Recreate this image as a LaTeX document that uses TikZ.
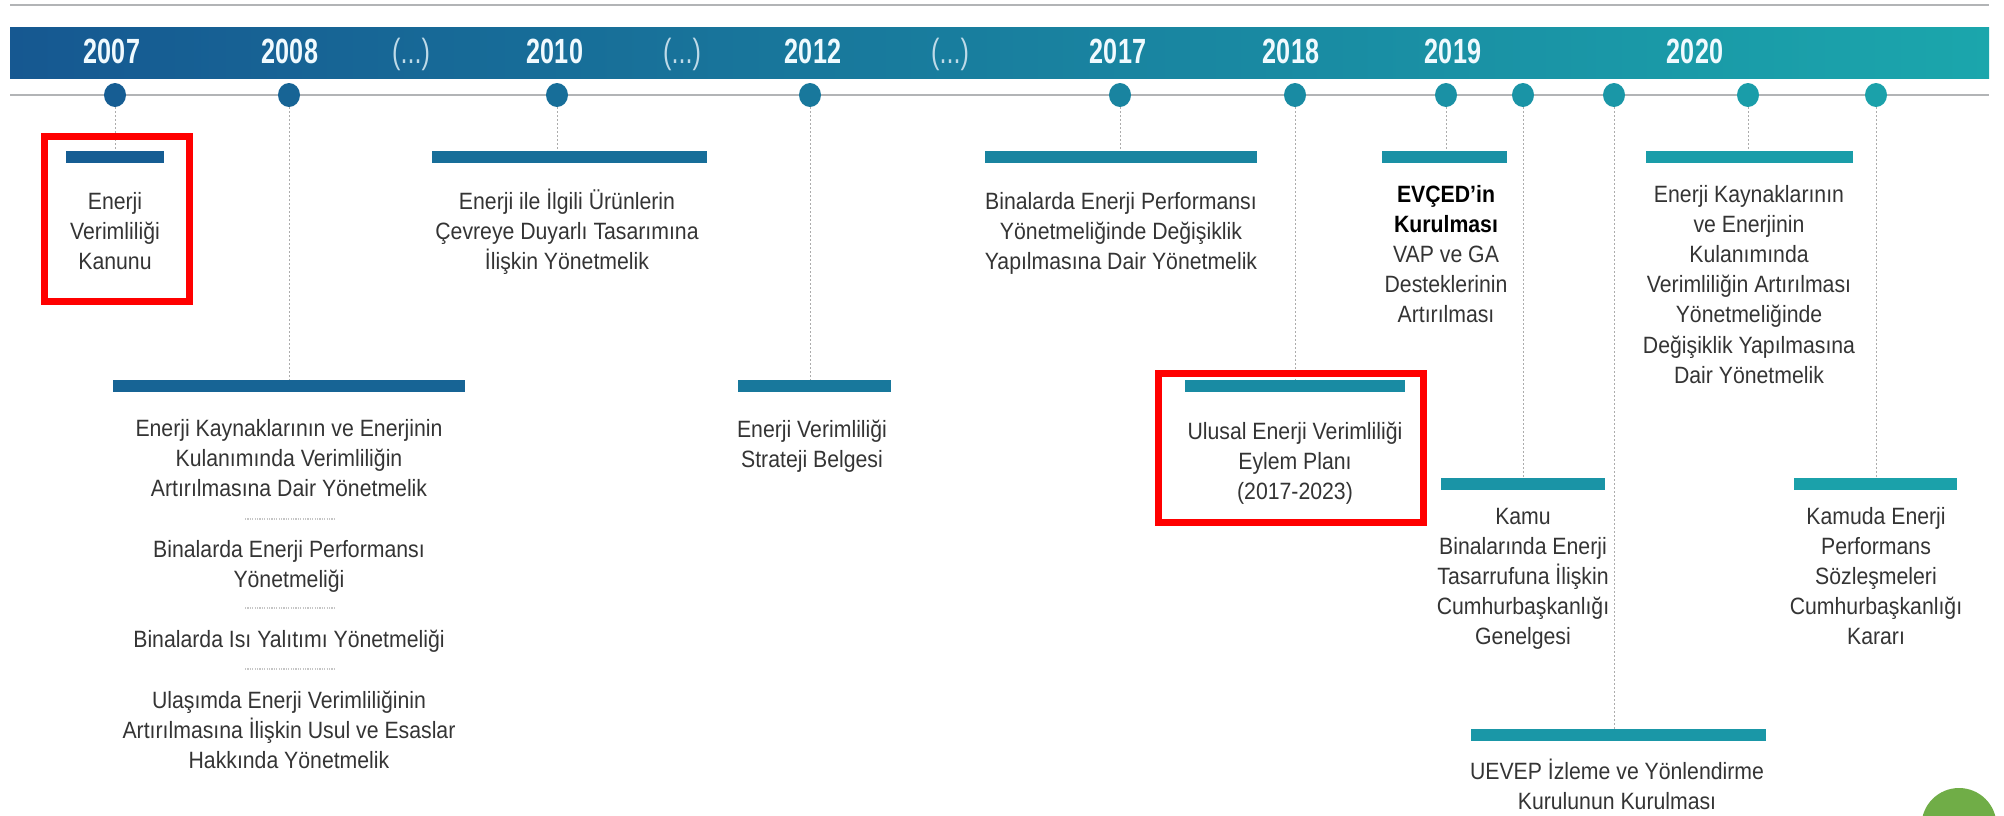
\documentclass[tikz,border=0pt]{standalone}
\usepackage{fontspec}
\setmainfont{Liberation Sans}[FakeStretch=0.9]
\newfontfamily\yearfont{Liberation Sans}[FakeStretch=0.72]
\usetikzlibrary{shapes.geometric}

\definecolor{tlblue}{RGB}{22,88,145}
\definecolor{tlteal}{RGB}{27,166,172}
\definecolor{txtgray}{RGB}{52,52,52}
\definecolor{railgray}{RGB}{178,180,182}
\definecolor{gapblue}{RGB}{190,218,232}
\definecolor{pptgreen}{RGB}{112,173,71}
\newcommand{\descsize}{\fontsize{11.8}{15.1}\selectfont}

\tikzset{
  rail/.style={draw=railgray, line width=1pt},
  yr/.style={anchor=base, inner sep=0pt, text=white!94!cyan, font=\yearfont\bfseries\fontsize{17.5}{18}\selectfont},
  yrgap/.style={anchor=base, inner sep=0pt, text=gapblue, font=\yearfont\fontsize{17.5}{18}\selectfont},
  dot/.style={ellipse, minimum width=11pt, minimum height=12pt, inner sep=0pt},
  bar/.style={rectangle, inner sep=0pt, minimum height=6pt},
  desc/.style={anchor=north, align=center, inner sep=0pt, text=txtgray, font=\descsize},
  leader/.style={draw=gray!65, line width=0.5pt, dash pattern=on 1pt off 1pt},
  sepline/.style={draw=gray!45, line width=0.6pt, dash pattern=on 0.6pt off 0.6pt},
  redframe/.style={draw=red, line width=3.5pt}
}

\begin{document}
\begin{tikzpicture}[x=0.5pt,y=-0.5pt]
\useasboundingbox (0,0) rectangle (2004,815);
\clip (0,0) rectangle (2004,815);

% band and rails
\draw[rail] (10,5) -- (1989,5);
\shade[left color=tlblue, right color=tlteal] (10,27) rectangle (1989,78);
\draw[rail] (10,94.5) -- (1989,94.5);

% years
\node[yr] (y07) at (112,63.5) {2007};
\node[yr] (y08) at (290,63.5) {2008};
\node[yrgap] (g1) at (411,63.5) {(...)};
\node[yr] (y10) at (555,63.5) {2010};
\node[yrgap] (g2) at (682,63.5) {(...)};
\node[yr] (y12) at (813,63.5) {2012};
\node[yrgap] (g3) at (950,63.5) {(...)};
\node[yr] (y17) at (1118,63.5) {2017};
\node[yr] (y18) at (1291,63.5) {2018};
\node[yr] (y19) at (1453,63.5) {2019};
\node[yr] (y20) at (1695,63.5) {2020};

% dots on the rail
\foreach \n/\x/\p in {07/115/6, 08/289/15, 10/557/28, 12/810/41, 17/1120/56, 18/1295/65,
                      19a/1446/73, 19b/1523/77, 19c/1614/81, 20a/1748/88, 20b/1876/94}
  \node[dot, fill=tlteal!\p!tlblue] (d\n) at (\x,95) {};

% bars
\node[bar, minimum width=49pt,    fill=tlteal!6!tlblue]  (b07)  at (115,157) {};
\node[bar, minimum width=176pt,   fill=tlteal!15!tlblue] (b08)  at (289,386) {};
\node[bar, minimum width=137.5pt, fill=tlteal!28!tlblue] (b10)  at (569.5,157) {};
\node[bar, minimum width=76.5pt,  fill=tlteal!41!tlblue] (b12)  at (814.5,386) {};
\node[bar, minimum width=136pt,   fill=tlteal!56!tlblue] (b17)  at (1121,157) {};
\node[bar, minimum width=110pt,   fill=tlteal!65!tlblue] (b18)  at (1295,386) {};
\node[bar, minimum width=62.5pt,  fill=tlteal!73!tlblue] (b19a) at (1444.5,157) {};
\node[bar, minimum width=82pt,    fill=tlteal!77!tlblue] (b19b) at (1523,484) {};
\node[bar, minimum width=147.5pt, fill=tlteal!81!tlblue] (b19c) at (1618.5,735) {};
\node[bar, minimum width=103.5pt, fill=tlteal!88!tlblue] (b20a) at (1749.5,157) {};
\node[bar, minimum width=81.5pt,  fill=tlteal!94!tlblue] (b20b) at (1875.5,484) {};

% leaders
\foreach \n in {07,08,10,12,17,18,19a,19b,19c,20a,20b}
  \draw[leader] (d\n.south) -- (d\n.south |- b\n.north);

% texts
\node[desc] (t07) at (115,187.5) {\strut Enerji\\Verimliliği\\Kanunu};
\node[desc] (t08) at (289,415) {\strut Enerji Kaynaklarının ve Enerjinin\\Kulanımında Verimliliğin\\Artırılmasına Dair Yönetmelik\\ \\
  Binalarda Enerji Performansı\\Yönetmeliği\\ \\Binalarda Isı Yalıtımı Yönetmeliği\\ \\
  Ulaşımda Enerji Verimliliğinin\\Artırılmasına İlişkin Usul ve Esaslar\\Hakkında Yönetmelik};
\node[desc] (t10) at (567,187.5) {\strut Enerji ile İlgili Ürünlerin\\Çevreye Duyarlı Tasarımına\\İlişkin Yönetmelik};
\node[desc] (t12) at (812,416) {\strut Enerji Verimliliği\\Strateji Belgesi};
\node[desc] (t17) at (1121,188) {\strut Binalarda Enerji Performansı\\Yönetmeliğinde Değişiklik\\Yapılmasına Dair Yönetmelik};
\node[desc] (t18) at (1295,417.5) {\strut Ulusal Enerji Verimliliği\\Eylem Planı\\(2017-2023)};
\node[desc] (t19a) at (1446,180.5) {\strut\textcolor{black}{\bfseries EVÇED’in}\\\textcolor{black}{\bfseries Kurulması}\\VAP ve GA\\Desteklerinin\\Artırılması};
\node[desc] (t19b) at (1523,502.5) {\strut Kamu\\Binalarında Enerji\\Tasarrufuna İlişkin\\Cumhurbaşkanlığı\\Genelgesi};
\node[desc] (t19c) at (1617,757.5) {\strut UEVEP İzleme ve Yönlendirme\\Kurulunun Kurulması};
\node[desc] (t20a) at (1749,180.5) {\strut Enerji Kaynaklarının\\ve Enerjinin\\Kulanımında\\Verimliliğin Artırılması\\Yönetmeliğinde\\Değişiklik Yapılmasına\\Dair Yönetmelik};
\node[desc] (t20b) at (1876,502.5) {\strut Kamuda Enerji\\Performans\\Sözleşmeleri\\Cumhurbaşkanlığı\\Kararı};

% separators in the 2008 list
\draw[sepline] (245,519) -- (334,519);
\draw[sepline] (245,608) -- (334,608);
\draw[sepline] (245,669) -- (334,669);

% highlights
\draw[redframe] (44.5,136.5) rectangle (189.5,301.5);
\draw[redframe] (1158.5,373.5) rectangle (1423.5,522.5);

\fill[pptgreen] (1959,825.5) circle (37.5);
\end{tikzpicture}
\end{document}
